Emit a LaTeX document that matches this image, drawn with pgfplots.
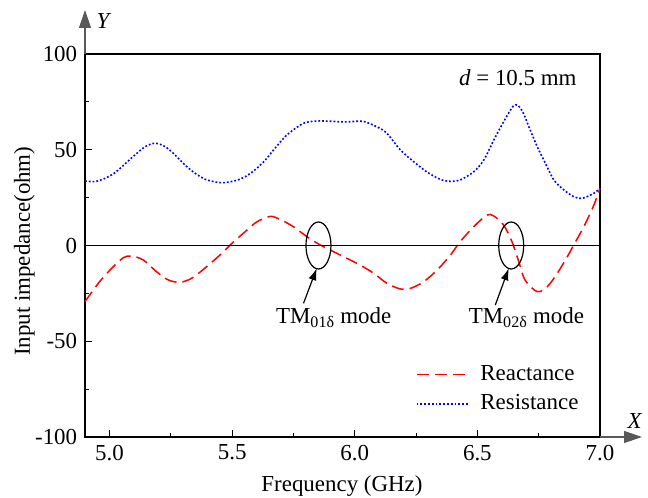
\documentclass[border=0pt]{standalone}
\usepackage{fontspec}
\setmainfont{Liberation Serif}
\usepackage{pgfplots}
\pgfplotsset{compat=1.18}
\usetikzlibrary{arrows.meta}

\begin{document}
\fontsize{23}{27}\selectfont
\begin{tikzpicture}
\begin{axis}[
  at={(0,0)}, anchor=south west,
  width=515bp, height=383bp, scale only axis,
  xmin=4.9, xmax=7.0, ymin=-100, ymax=100,
  xtick={5,5.5,6,6.5,7}, xticklabels={5.0,5.5,6.0,6.5,7.0},
  ytick={-100,-50,0,50,100}, yticklabels={-100,-50,0,50,100},
  minor x tick num=1, minor y tick num=1,
  tick align=inside, xtick pos=bottom, ytick pos=left,
  major tick length=7bp, minor tick length=4bp,
  every tick/.style={black, line width=1bp},
  axis line style={line width=1.1bp},
  clip=false,
  xlabel={Frequency (GHz)},
  ylabel={Input impedance(ohm)},
  xlabel style={at={(axis description cs:0.499,-0.143)}, anchor=base, inner sep=0pt},
  ylabel style={at={(axis description cs:-0.097,0.485)}, anchor=south, inner sep=0pt},
  legend style={at={(0.642,0.193)}, anchor=north west, draw=none, fill=none,
    inner sep=0pt, row sep=7bp, nodes={inner sep=2bp}},
  legend cell align=left,
  legend image code/.code={\draw[#1] (0bp,0bp) -- (52bp,0bp); \path (61bp,0bp);},
]
\addplot[red, line width=1.5bp, dash pattern=on 12bp off 6bp, smooth] coordinates {
(4.90,-29.3) (4.954,-19.8) (5.002,-12.8) (5.056,-6.4) (5.09,-5.5) (5.138,-7.6)
(5.192,-13.7) (5.24,-18.0) (5.288,-19.2) (5.335,-17.1) (5.388,-11.9) (5.458,-4.1)
(5.499,1.1) (5.553,7.2) (5.60,12.3) (5.655,15.2) (5.696,13.6) (5.75,9.8) (5.805,4.6)
(5.859,0.3) (5.913,-3.2) (5.968,-6.7) (6.022,-10.2) (6.077,-14.5) (6.131,-19.7)
(6.186,-22.7) (6.227,-22.4) (6.281,-18.9) (6.336,-12.8) (6.39,-5.0) (6.43,2.0)
(6.485,9.8) (6.539,15.9) (6.567,15.4) (6.607,10.7) (6.641,2.0) (6.669,-8.5)
(6.694,-18.0) (6.744,-24.1) (6.785,-21.5) (6.826,-14.5) (6.867,-5.8) (6.893,0.3)
(6.934,9.8) (6.975,21.1) (7.0,29.9)};
\addlegendentry{Reactance}
\addplot[blue, line width=1.6bp, dash pattern=on 1.8bp off 2bp, smooth] coordinates {
(4.90,33.7) (4.941,33.4) (4.982,35.1) (5.022,38) (5.063,42.6) (5.104,47.3)
(5.145,51.6) (5.186,53.4) (5.227,51.6) (5.267,47.3) (5.308,42.0) (5.349,37.7)
(5.39,34.6) (5.431,33.2) (5.465,32.8) (5.512,33.8) (5.553,35.9) (5.594,39.6)
(5.635,44.6) (5.669,49.9) (5.723,57.7) (5.791,63.8) (5.846,65) (5.90,64.9)
(5.955,64.5) (6.00,64.8) (6.036,64.8) (6.09,62) (6.131,58.6) (6.186,49.9)
(6.24,43.8) (6.293,38.5) (6.347,34.6) (6.39,33.5) (6.43,34.2) (6.485,38.5)
(6.526,44.6) (6.567,55.1) (6.607,64.6) (6.645,72.6) (6.665,73.2) (6.685,69.8) (6.71,62)
(6.744,51.6) (6.771,44.6) (6.812,34.2) (6.853,29) (6.893,25.5) (6.927,24.6)
(6.975,27.3) (7.0,29.9)};
\addlegendentry{Resistance}

\draw[line width=1.3bp] (axis cs:4.9,0) -- (axis cs:7,0);
\draw[line width=1.2bp] (axis cs:5.852,0) ellipse [x radius=12.5bp, y radius=23.5bp];
\draw[line width=1.2bp] (axis cs:6.638,0) ellipse [x radius=12.5bp, y radius=23.5bp];
\draw[line width=1.2bp, -{Latex[length=12bp,width=8bp]}] (axis cs:5.791,-30.2) -- (axis cs:5.845,-11.9);
\draw[line width=1.2bp, -{Latex[length=12bp,width=8bp]}] (axis cs:6.573,-31.1) -- (axis cs:6.628,-11.9);
\node[anchor=base] at (axis cs:5.914,-40.7) {TM\textsubscript{01δ} mode};
\node[anchor=base] at (axis cs:6.70,-40.7) {TM\textsubscript{02δ} mode};
\node[anchor=base] at (axis cs:6.665,83.8) {\textit{d} = 10.5 mm};

\draw[black!65, line width=1.2bp, -{Triangle[length=18bp,width=12bp]}] (rel axis cs:0,1) -- ++(0bp,44bp);
\draw[black!65, line width=1.2bp, -{Triangle[length=18bp,width=12bp]}] (rel axis cs:1,0) -- ++(42bp,0bp);
\path (rel axis cs:0,1) ++(19bp,33bp) node {\textit{Y}};
\path (rel axis cs:1,0) ++(35bp,16bp) node {\textit{X}};
\end{axis}
\pgfresetboundingbox
\path (-85bp,-61bp) rectangle (563bp,437bp);
\end{tikzpicture}
\end{document}
